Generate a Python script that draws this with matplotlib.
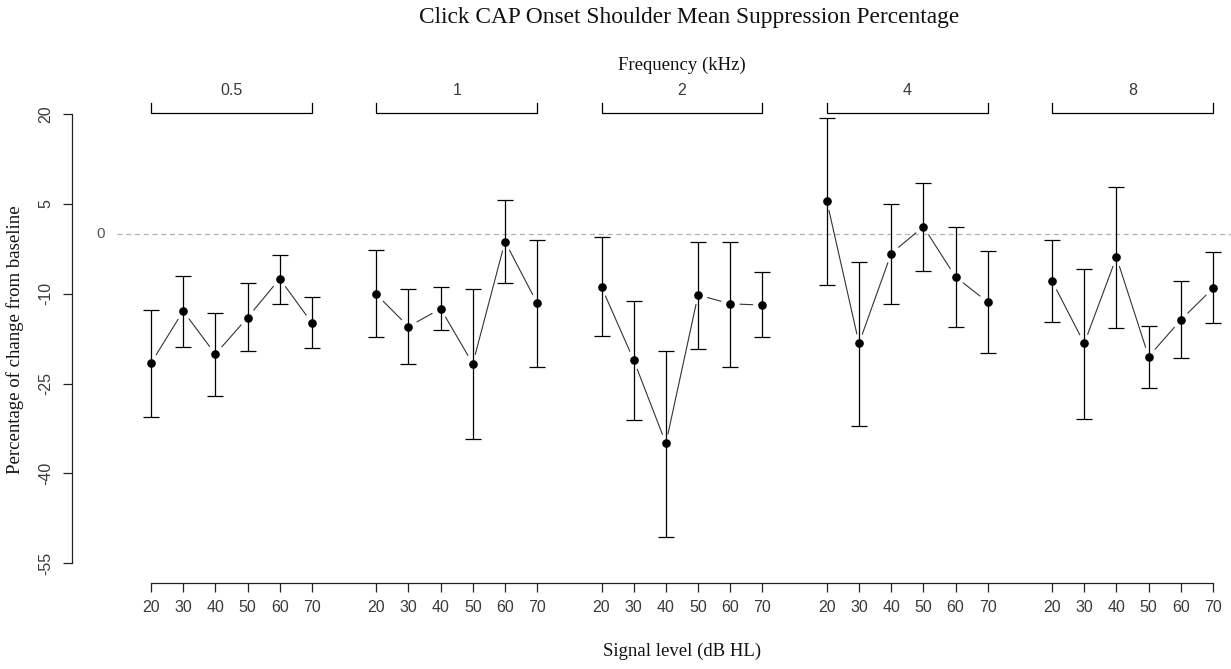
import numpy as np
import matplotlib
matplotlib.use('Agg')
import matplotlib.pyplot as plt

# data
freqs = ['0.5', '1', '2', '4', '8']
levels = [20, 30, 40, 50, 60, 70]

means = [
    [-21.6, -12.9, -20.1, -14.0, -7.5, -14.9],
    [-10.1, -15.5, -12.5, -21.7, -1.3, -11.6],
    [-8.9, -21.1, -35.0, -10.2, -11.7, -11.9],
    [5.5, -18.3, -3.3, 1.2, -7.2, -11.4],
    [-7.9, -18.3, -3.9, -20.5, -14.4, -9.1],
]
upper = [
    [-12.7, -7.0, -13.3, -8.2, -3.5, -10.6],
    [-2.7, -9.2, -8.9, -9.2, 5.6, -1.0],
    [-0.6, -11.2, -19.5, -1.3, -1.3, -6.4],
    [19.4, -4.7, 4.9, 8.5, 1.2, -2.8],
    [-1.0, -5.9, 7.8, -15.4, -7.9, -3.0],
]
lower = [
    [-30.6, -18.9, -27.1, -19.6, -11.7, -19.1],
    [-17.3, -21.7, -16.0, -34.2, -8.2, -22.3],
    [-17.1, -31.1, -50.7, -19.3, -22.2, -17.3],
    [-8.5, -32.1, -11.7, -6.2, -15.6, -19.9],
    [-14.7, -30.9, -15.8, -25.7, -20.8, -14.9],
]
yticks = [20, 5, -10, -25, -40, -55]

serif = ['Liberation Serif', 'DejaVu Serif']
sans = ['Liberation Sans', 'DejaVu Sans']
txt_col = '#3a3a3a'

fig = plt.figure(figsize=(12.31, 6.69), dpi=100)
ax = fig.add_axes([72 / 1231, 1 - 583 / 669, 1 - 72 / 1231, (583 - 96) / 669])
ax.set_xlim(-2.455, 33.56)
ax.set_ylim(-58.3, 23.0)

# zero reference line
ax.plot([-1.06, 34], [0, 0], ls=(0, (4, 3)), color='#b0b0b0', lw=0.9, zorder=1)
ax.text(-1.55, 0, '0', ha='center', va='center', fontsize=11, color='#555555',
        family=sans)

xpos_all = []
for g in range(len(freqs)):
    xs = [g * 7 + i for i in range(len(levels))]
    xpos_all += xs
    m = np.array(means[g])
    lo = m - np.array(lower[g])
    hi = np.array(upper[g]) - m
    ax.errorbar(xs, m, yerr=[lo, hi], fmt='none', ecolor='black', elinewidth=0.9,
                capsize=6, capthick=0.9, zorder=2)
    ax.plot(xs, m, 'o', color='black', ms=5.2, zorder=3)
    # R type="b": connecting segments with gaps at the points
    for i in range(len(xs) - 1):
        ax.annotate('', xy=(xs[i + 1], m[i + 1]), xytext=(xs[i], m[i]),
                    arrowprops=dict(arrowstyle='-', shrinkA=7, shrinkB=7,
                                    lw=0.8, color='#333333'), zorder=2)
    # frequency bracket
    ax.plot([xs[0], xs[0], xs[-1], xs[-1]], [21.85, 20.15, 20.15, 21.85],
            color='black', lw=0.9, clip_on=False)
    ax.text((xs[0] + xs[-1]) / 2, 24.0, freqs[g], ha='center', va='center',
            fontsize=11.5, color=txt_col, family=sans)

for s in ['top', 'right']:
    ax.spines[s].set_visible(False)
ax.spines['left'].set_bounds(-55, 20)
ax.spines['bottom'].set_bounds(0, 33)
for s in ['left', 'bottom']:
    ax.spines[s].set_linewidth(0.9)
    ax.spines[s].set_color('#222222')

ax.set_xticks(xpos_all)
ax.set_xticklabels([str(l) for l in levels] * len(freqs))
ax.set_yticks(yticks)
ax.set_yticklabels([str(v) for v in yticks], rotation=90, va='center')
ax.tick_params(axis='both', direction='out', length=6.5, width=0.9, color='#222222',
               labelsize=11.5, labelcolor=txt_col)
ax.tick_params(axis='x', pad=6)
ax.tick_params(axis='y', pad=7)
for lab in ax.get_xticklabels() + ax.get_yticklabels():
    lab.set_family(sans)

fig.text(689 / 1231, 1 - 18 / 669, 'Click CAP Onset Shoulder Mean Suppression Percentage',
         ha='center', va='center', fontsize=16.8, family=serif, color='#111111')
fig.text(682 / 1231, 1 - 65 / 669, 'Frequency (kHz)', ha='center', va='center',
         fontsize=13.5, family=serif, color='#111111')
fig.text(682 / 1231, 1 - 651 / 669, 'Signal level (dB HL)', ha='center', va='center',
         fontsize=13.5, family=serif, color='#111111')
fig.text(15 / 1231, 1 - 340 / 669, 'Percentage of change from baseline', ha='center',
         va='center', rotation=90, fontsize=13.5, family=serif, color='#111111')

fig.savefig('out.png', dpi=100)
